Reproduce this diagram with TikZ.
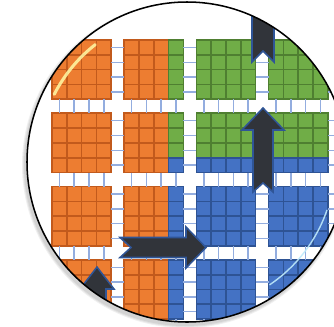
\documentclass[tikz,border=0pt]{standalone}
\definecolor{orangefill}{HTML}{ED7D31}
\definecolor{orangeline}{HTML}{C25A1C}
\definecolor{greenfill}{HTML}{70AD47}
\definecolor{greenline}{HTML}{4F7F31}
\definecolor{bluefill}{HTML}{4472C4}
\definecolor{blueline}{HTML}{2E5394}
\definecolor{rungblue}{HTML}{93ADDF}
\definecolor{arrowdark}{HTML}{31343A}
\definecolor{arrowedge}{HTML}{2F5597}

\begin{document}
\begin{tikzpicture}[x=0.03cm,y=-0.03cm,line width=0.9pt,
  cellbox/.style={line width=1.4pt},
  rung/.style={draw=rungblue,line width=1.2pt},
  blockarrow/.style={fill=arrowdark,draw=arrowedge,line width=1.3pt,line join=miter}]
  \clip (0,0) rectangle (334,326);
  \fill[white] (0,0) rectangle (334,326);
  \foreach \s in {163,162,161}
    \fill[black,opacity=0.06] (185,165) circle (\s);
  \fill[white] (187,162) circle (160);

  \begin{scope}
    \clip (187,162) circle (160);
    \foreach \bc in {0,...,4}
      \foreach \br in {0,...,4}
        \foreach \k in {0,...,3}
          \foreach \m in {0,...,3} {
            \pgfmathsetmacro{\cx}{52+72.2*\bc+14.8*\k}
            \pgfmathsetmacro{\cy}{40+73.3*\br+14.8*\m}
            \pgfmathtruncatemacro{\gx}{4*\bc+\k}
            \pgfmathtruncatemacro{\gy}{4*\br+\m}
            \ifnum\gx<7 \def\tonefill{orangefill}\def\toneline{orangeline}%
            \else\ifnum\gy<7 \def\tonefill{greenfill}\def\toneline{greenline}%
            \else \def\tonefill{bluefill}\def\toneline{blueline}\fi\fi
            \filldraw[fill=\tonefill,draw=\toneline,cellbox]
              (\cx,\cy) rectangle ++(14.8,14.8);
          }
    \foreach \bc in {0,...,4}
      \foreach \br in {0,...,4}
        \foreach \k in {0,...,3} {
          \pgfmathsetmacro{\rx}{52+72.2*\bc+14.8*(\k+0.5)}
          \pgfmathsetmacro{\ry}{40+73.3*\br+59.2}
          \draw[rung] (\rx,\ry) -- (\rx,\ry+14.1);
          \pgfmathsetmacro{\hy}{40+73.3*\br+14.8*(\k+0.5)}
          \pgfmathsetmacro{\hx}{52+72.2*\bc+59.2}
          \draw[rung] (\hx,\hy) -- (\hx+13,\hy);
        }

    \draw[blockarrow] (263,-18) -- (285,4) -- (274,4) -- (274,62) -- (263,51)
      -- (252,62) -- (252,4) -- (241,4) -- cycle;
    \draw[blockarrow] (263,108) -- (284,130) -- (273,130) -- (273,192) -- (263,183)
      -- (253,192) -- (253,130) -- (242,130) -- cycle;
    \draw[blockarrow] (120,237.5) -- (186,237.5) -- (186,227) -- (206,247.5)
      -- (186,268) -- (186,257.5) -- (120,257.5) -- (131,247.5) -- cycle;
    \draw[blockarrow] (97,267) -- (114,289) -- (106,289) -- (106,340) -- (88,340)
      -- (88,289) -- (80,289) -- cycle;

    \draw[yellow!35!white,line width=2.6pt,line cap=round,opacity=0.85]
      ([shift={(-128:149)}]187,162) arc[start angle=-128,end angle=-153,radius=149];
    \draw[cyan!25!white,line width=1.2pt,line cap=round,opacity=0.9]
      ([shift={(56:148)}]187,162) arc[start angle=56,end angle=19,radius=148];
  \end{scope}

  \draw[line width=1.3pt] (187,162) circle (160);
\end{tikzpicture}
\end{document}
